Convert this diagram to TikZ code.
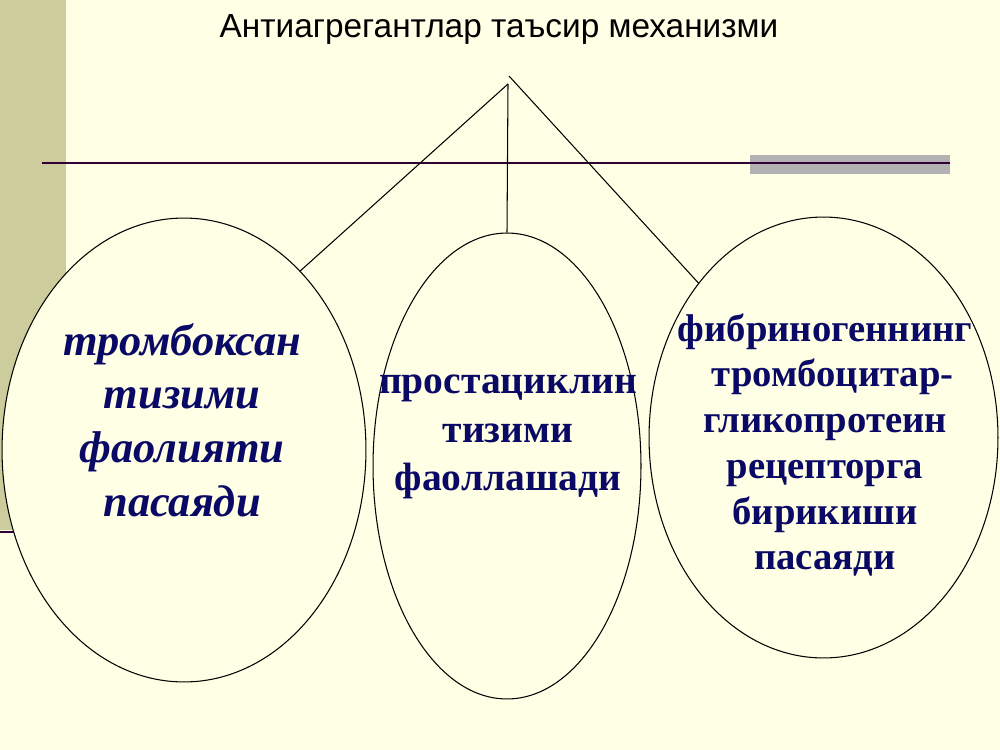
\documentclass[tikz,border=0pt]{standalone}
\usepackage{fontspec}
\setmainfont{Liberation Serif}
\newfontfamily\titlefont{Liberation Sans}
\usetikzlibrary{shapes.geometric}
\definecolor{bgcol}{HTML}{FFFFE5}
\definecolor{bandcol}{HTML}{CCCC9C}
\definecolor{rulecol}{HTML}{330033}
\definecolor{barcol}{HTML}{B2B2B2}
\definecolor{txtcol}{HTML}{0A0A66}
\tikzset{
  oval/.style={ellipse, draw=black, line width=0.6pt, fill=bgcol, inner sep=0pt},
  link/.style={draw=black, line width=0.6pt},
  ovaltext/.style={text=txtcol, align=center, inner sep=0pt, font=\bfseries}
}
\begin{document}
\begin{tikzpicture}[x=0.02cm, y=-0.02cm]
\fill[bgcol] (0,0) rectangle (1000,750);
\useasboundingbox (0,0) rectangle (1000,750);
% template decoration
\fill[bandcol] (0,0) rectangle (66,530);
\draw[rulecol, line width=1.2pt] (0,532) -- (66,532);
\fill[barcol] (750,155) rectangle (950,174);
\draw[rulecol, line width=1.2pt] (42,163) -- (950,163);
% title
\node[anchor=base, inner sep=0pt, font=\titlefont\fontsize{19}{22}\selectfont] (title) at (499,38) {Антиагрегантлар таъсир механизми};
% apex points
\coordinate (apex) at (508,84);
\coordinate (apexr) at (509,76);
% ellipses
\node[oval, minimum width=7.28cm, minimum height=9.28cm] (L) at (184,450) {};
\node[oval, minimum width=5.36cm, minimum height=9.32cm] (M) at (507,466) {};
\node[oval, minimum width=6.98cm, minimum height=8.82cm] (R) at (823.5,437.5) {};
% connectors
\draw[link] (apex) -- (L.57.5);
\draw[link] (apex) -- (M.north);
\draw[link] (apexr) -- (R.129);
% texts
\node[ovaltext, font=\bfseries\itshape\fontsize{25.3}{30.6}\selectfont] (Lt) at (182,420) {тромбоксан\\тизими\\фаолияти\\пасаяди};
\node[ovaltext, font=\bfseries\fontsize{22.5}{27.6}\selectfont] (Mt) at (508,437) {простациклин\\тизими\\фаоллашади};
\node[ovaltext, font=\bfseries\fontsize{22}{26}\selectfont] (Rt) at (825,445) {фибриногеннинг\\\hspace*{0.4em}тромбоцитар-\\гликопротеин\\рецепторга\\бирикиши\\пасаяди};
\end{tikzpicture}
\end{document}
